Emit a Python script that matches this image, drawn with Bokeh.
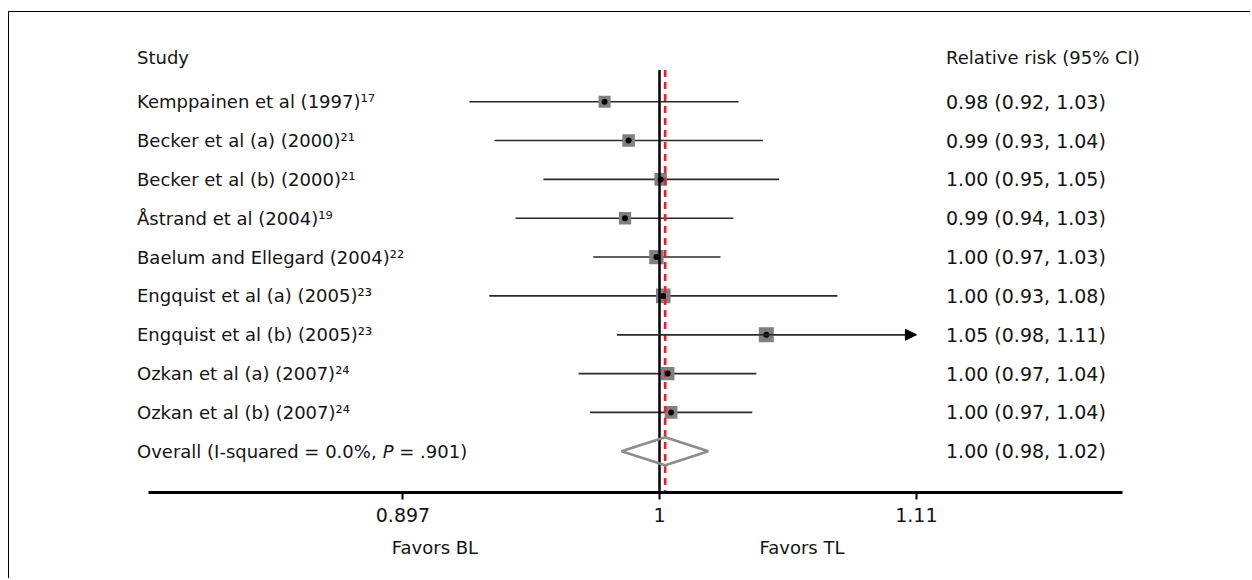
from math import exp
from bokeh.plotting import figure
from bokeh.models import (ColumnDataSource, Range1d, FixedTicker, LogAxis, Arrow, NormalHead)
from bokeh.core.properties import value
from bokeh.embed import file_html
from bokeh.resources import INLINE

# ---------------- data ----------------
studies = [
    "Kemppainen et al (1997)\u00b9\u2077",
    "Becker et al (a) (2000)\u00b2\u00b9",
    "Becker et al (b) (2000)\u00b2\u00b9",
    "\u00c5strand et al (2004)\u00b9\u2079",
    "Baelum and Ellegard (2004)\u00b2\u00b2",
    "Engquist et al (a) (2005)\u00b2\u00b3",
    "Engquist et al (b) (2005)\u00b2\u00b3",
    "Ozkan et al (a) (2007)\u00b2\u2074",
    "Ozkan et al (b) (2007)\u00b2\u2074",
]
rr = [0.977, 0.987, 1.0005, 0.9855, 0.9987, 1.0016, 1.0463, 1.0035, 1.0049]
ci_lo = [0.9226, 0.9325, 0.952, 0.9408, 0.9723, 0.9304, 0.9822, 0.9663, 0.971]
ci_hi = [1.0341, 1.0448, 1.052, 1.0318, 1.0262, 1.0783, 1.115, 1.0419, 1.0401]
weights = [9.1, 9.8, 9.8, 9.5, 12.9, 13.3, 14.2, 11.2, 10.2]
ci_text = [
    "0.98 (0.92, 1.03)", "0.99 (0.93, 1.04)", "1.00 (0.95, 1.05)",
    "0.99 (0.94, 1.03)", "1.00 (0.97, 1.03)", "1.00 (0.93, 1.08)",
    "1.05 (0.98, 1.11)", "1.00 (0.97, 1.04)", "1.00 (0.97, 1.04)",
]
overall_est = 1.0024
overall_lo = 0.984
overall_hi = 1.0209
overall_text = "1.00 (0.98, 1.02)"
overall_label = ["Overall (I-squared = 0.0%,", "P", "= .901)"]
header_left = "Study"
header_right = "Relative risk (95% CI)"
tick_values = [0.897, 1.0, 1.115]
tick_labels = ["0.897", "1", "1.11"]
favor_labels = ["Favors BL", "Favors TL"]

# ---------------- layout helpers (page pixels -> data) ----------------
MARGIN_LEFT, MARGIN_TOP, BORDER = 8, 11, 1.5
W, H = 1242, 567
LEFT_PX = MARGIN_LEFT + BORDER
TOP_PX = MARGIN_TOP + BORDER
FRAME_BOTTOM_PX = 492.5
X_ONE_PX, PX_PER_LN = 659.5, 2360.0
ROW1_PX, ROW_STEP = 101.7, 38.84

def xd(px):
    return exp((px - X_ONE_PX) / PX_PER_LN)

def yd(py):
    return 1 + (py - ROW1_PX) / ROW_STEP

n = len(studies)
rows = list(range(1, n + 1))
overall_row = n + 1

p = figure(width=W, height=H, x_axis_type="log",
           x_range=Range1d(xd(LEFT_PX), xd(LEFT_PX + W)),
           y_range=Range1d(yd(FRAME_BOTTOM_PX), yd(TOP_PX)),
           y_axis_location=None, toolbar_location=None, output_backend="svg",
           min_border_left=0, min_border_right=0, min_border_top=0,
           min_border_bottom=int(round(TOP_PX + H - FRAME_BOTTOM_PX)), title=None)
p.outline_line_color = None
p.grid.visible = False
p.background_fill_color = "white"
p.border_fill_color = "white"
p.styles = {"border-top": "1.5px solid #000", "border-left": "1.5px solid #000"}
p.margin = (MARGIN_TOP, 0, 0, MARGIN_LEFT)

src = ColumnDataSource(dict(y=rows, rr=rr, lo=ci_lo, hi=ci_hi,
                            size=[4.0 * w ** 0.5 for w in weights],
                            label=studies, ci=ci_text))

FONT = value("DejaVu Sans")
TXT = "#141414"

# CI lines
p.segment(x0="lo", y0="y", x1="hi", y1="y", source=src, line_color="#2a2a2a", line_width=1.6)
for lo, hi, r in zip(ci_lo, ci_hi, rows):
    if hi >= tick_values[-1]:
        p.add_layout(Arrow(end=NormalHead(size=11, fill_color="black", line_color="black"),
                           x_start=lo, y_start=r, x_end=hi, y_end=r,
                           line_color="#2a2a2a", line_width=1.6))

# weight boxes
p.scatter(x="rr", y="y", size="size", marker="square", source=src,
          fill_color="#808080", line_color=None)

# reference line at 1 and overall-effect line
p.segment(x0=[1.0], y0=[yd(70)], x1=[1.0], y1=[yd(FRAME_BOTTOM_PX)],
          line_color="black", line_width=2.5)
p.segment(x0=[overall_est], y0=[yd(70)], x1=[overall_est], y1=[yd(FRAME_BOTTOM_PX)],
          line_color="#ee1c25", line_width=2.6, line_dash="7 5")

# point estimates
p.scatter(x="rr", y="y", size=6, source=src, fill_color="black", line_color=None)

# overall diamond
hh = 14 / ROW_STEP
p.patch([overall_lo, overall_est, overall_hi, overall_est],
        [overall_row, overall_row - hh, overall_row, overall_row + hh],
        fill_color=None, line_color="#8c8c8c", line_width=2.5)

# texts
x_left = xd(137)
x_right = xd(946)
y_head = yd(57)
p.text(x=[x_left], y=[y_head], text=[header_left], text_font=FONT, text_font_size="18px",
       text_baseline="middle", text_color=TXT)
p.text(x=[x_right], y=[y_head], text=[header_right], text_font=FONT, text_font_size="18px",
       text_baseline="middle", text_color=TXT)
p.text(x=x_left, y="y", text="label", source=src, text_font=FONT, text_font_size="18px",
       text_baseline="middle", text_color=TXT)
p.text(x=x_right, y="y", text="ci", source=src, text_font=FONT, text_font_size="19px",
       text_baseline="middle", text_color=TXT)
p.text(x=[x_right], y=[overall_row], text=[overall_text], text_font=FONT, text_font_size="19px",
       text_baseline="middle", text_color=TXT)

p.text(x=[x_left], y=[overall_row], text=[overall_label[0]], text_font=FONT,
       text_font_size="18px", text_baseline="middle", text_color=TXT)
p.text(x=[x_left], y=[overall_row], text=[overall_label[1]], text_font=FONT,
       text_font_size="18px", text_font_style="italic", x_offset=245.7,
       text_baseline="middle", text_color=TXT)
p.text(x=[x_left], y=[overall_row], text=[overall_label[2]], text_font=FONT,
       text_font_size="18px", x_offset=262.3, text_baseline="middle", text_color=TXT)

# x axis
ax = p.xaxis[0]
ax.ticker = FixedTicker(ticks=tick_values)
ax.major_label_overrides = {v: s for v, s in zip(tick_values, tick_labels)}
ax.bounds = (xd(148), xd(1122))
ax.axis_line_width = 3
ax.axis_line_color = "black"
ax.major_tick_line_width = 2
ax.major_tick_line_color = "black"
ax.major_tick_in = 0
ax.major_tick_out = 7
ax.minor_tick_line_color = None
ax.major_label_text_font = "DejaVu Sans"
ax.major_label_text_font_size = "19px"
ax.major_label_text_color = TXT
ax.major_label_standoff = 8

favor_pos = [xd(435), xd(802)]
ax2 = LogAxis(ticker=FixedTicker(ticks=favor_pos),
              major_label_overrides={v: s for v, s in zip(favor_pos, favor_labels)},
              axis_line_color=None, major_tick_line_color=None, minor_tick_line_color=None,
              major_label_text_font="DejaVu Sans", major_label_text_font_size="18px",
              major_label_text_color=TXT, major_label_standoff=6)
p.add_layout(ax2, "below")

open("out.html", "w").write(file_html(p, INLINE))
